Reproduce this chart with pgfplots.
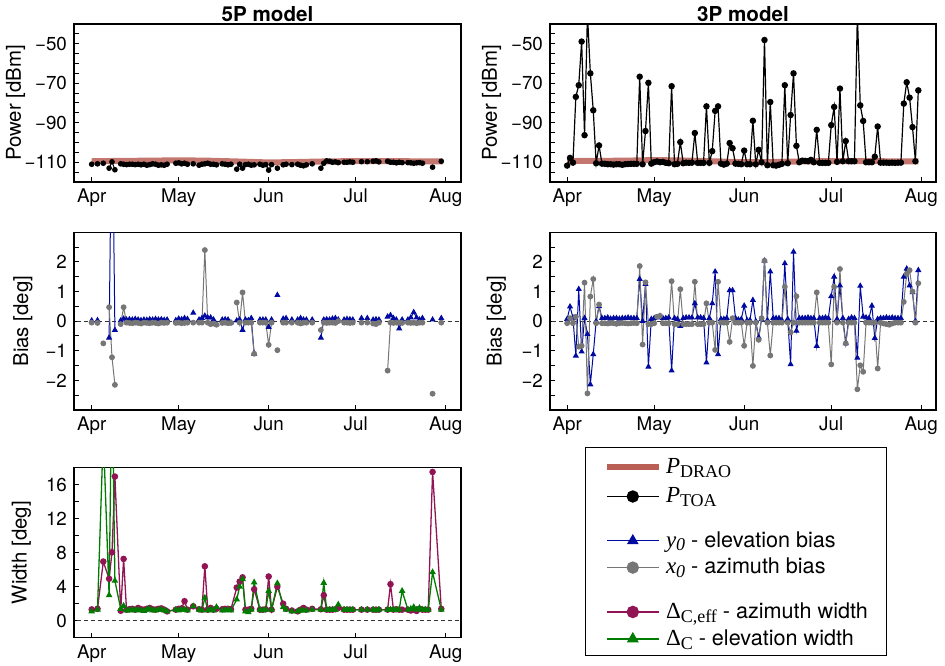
\documentclass[border=0pt]{standalone}
\usepackage{pgfplots}
\pgfplotsset{compat=1.18}
\usepackage{fontspec}
\setmainfont{TeX Gyre Heros}
\newfontfamily\tms{Liberation Serif}
\definecolor{drao}{RGB}{185,95,85}
\definecolor{ybl}{RGB}{0,10,160}
\definecolor{xgr}{RGB}{118,118,118}
\definecolor{wpu}{RGB}{145,20,85}
\definecolor{wgr}{RGB}{0,125,0}
\tikzset{lg/.style={}}
\pgfplotsset{
 lg/.style={legend image code/.code={\path (-1.85pt,6.4pt) (0pt,-6.4pt); \draw[mark repeat=2,mark phase=2,##1,mark size=2.8pt] plot coordinates {(0pt,0pt) (13pt,0pt) (26pt,0pt)};}},
 common/.style={scale only axis, anchor=south west,
  axis line style={line width=0.6pt}, tick style={black, line width=0.5pt},
  tick align=inside, major tick length=2.5pt, xtick pos=left, ytick pos=left,
  xtick={0,30,61,91,122}, xticklabels={Apr,May,Jun,Jul,Aug},
  tick label style={font=\fontsize{9.4}{11}\selectfont},
  label style={font=\fontsize{10.2}{12}\selectfont},
  title style={font=\bfseries\fontsize{10.3}{12}\selectfont, at={(axis description cs:0.5,1)}, anchor=base, yshift=-4.7pt},
  unbounded coords=jump},
 lpanel/.style={xmin=-6.1, xmax=127.3, width=193.5pt},
 rpanel/.style={xmin=-5.9, xmax=127.1, width=193pt},
 pow/.style={height=79pt, ymin=-120, ymax=-40, ytick={-115,-110,...,-45},
  yticklabels={,−110,,,,−90,,,,−70,,,,−50,}, ylabel={Power [dBm]}},
 bias/.style={height=88.85pt, ymin=-3, ymax=3,
  ytick={-2.5,-2,-1.5,-1,-0.5,0,0.5,1,1.5,2,2.5},
  yticklabels={,−2,,−1,,0,,1,,2,}, ylabel={Bias [deg]}},
}
\begin{document}
\begin{tikzpicture}
\path[use as bounding box] (0,0) rectangle (472.5pt,332.5pt);

% ---------------- 5P power
\begin{axis}[common, lpanel, pow, at={(37pt,241.5pt)}, title={5P model},
  ylabel style={at={(axis description cs:-0.151,0.5)}, anchor=center}]
\addplot[drao, line width=3pt, opacity=0.85] coordinates {(0,-109.5) (10,-109.3) (20,-109.2) (30,-109.0) (40,-109.2) (50,-109.6) (61,-110.1) (70,-109.9) (80,-109.6) (91,-109.4) (100,-109.4) (110,-109.5) (121,-109.6)};
\addplot[black, line width=0.5pt, mark=*, mark size=1.15pt] coordinates {
(0,-111) (1,nan) (2,-110.8) (3,nan) (4,-110.5) (5,nan) (6,-113) (7,-109.8) (8,-113.8) (9,nan)
(10,-110.8) (11,-111) (12,-111.2) (13,-111) (14,-111) (15,-111.2) (16,-111) (17,-111.3) (18,-111) (19,-111.5)
(20,-111.2) (21,-110.8) (22,-111) (23,-111.5) (24,-111.3) (25,-111.5) (26,-111) (27,nan)
(29,-110.5) (30,-110.3) (31,-110.8) (32,-110.5) (33,-111) (34,nan) (35,-110.8) (36,nan) (37,-111.5) (38,-111) (39,-110.8)
(40,-110.5) (41,-111) (42,-111) (43,-111.3) (44,nan) (45,-110.8) (46,-111) (47,-111.3) (48,-111) (49,nan)
(50,-113.5) (51,-111) (52,-113) (53,-111.2) (54,-111) (55,-111.5) (56,-111.3) (57,nan) (58,-111) (59,-111.5)
(60,-111.2) (61,-114) (62,-111.2) (63,nan) (64,-113) (65,nan) (66,-111.3) (67,-111) (68,nan) (69,-111.2)
(70,nan) (71,-111) (72,-111.5) (73,-111.8) (74,-111.3) (75,nan) (76,-110.8) (77,nan)
(79,-113) (80,-110.5) (81,-109.3) (82,-109.5) (83,-110) (84,-109.8) (85,-110.2) (86,nan) (87,-110) (88,-110) (89,-109.8)
(90,-110) (91,nan) (93,-109.7) (94,nan) (95,-109.7) (96,nan) (97,-109.5) (98,-109.3) (99,-109.8) (100,nan)
(102,-109.5) (103,-110) (104,-110) (105,-110.3) (106,-110) (107,-110.2) (108,nan) (109,-110.2)
(110,-110.3) (111,-110.5) (112,-110.3) (113,-110.2) (114,-110.5) (115,nan) (117.5,-112.5) (118.5,nan) (120.5,-109.5)};
\end{axis}

% ---------------- 3P power
\begin{axis}[common, rpanel, pow, at={(275pt,241.5pt)}, title={3P model},
  ylabel style={at={(axis description cs:-0.1516,0.5)}, anchor=center}]
\addplot[drao, line width=3pt, opacity=0.85] coordinates {(0,-109.4) (10,-109.3) (20,-109.2) (30,-108.9) (40,-109.1) (50,-109.5) (61,-110.0) (70,-109.9) (80,-109.6) (91,-109.4) (100,-109.4) (110,-109.5) (121,-109.6)};
\addplot[black, line width=0.6pt, mark=*, mark size=1.3pt] coordinates {
(0,-111.7) (1,-107.8) (2,-110.2) (3,-76.9) (4,-71) (5,-48.9) (6,-96.3) (7,-35) (8,-65) (9,-83.7)
(10,-110.5) (11,-101.5) (12,-110.7) (13,-110.8) (14,-111) (15,-111) (16,-111.2) (17,-111) (18,-111) (19,-111.3)
(20,-111) (21,-110.9) (22,-110.8) (23,-110.8) (24,-110.8) (25,-66.7) (26,-111) (27,-94.2) (28,-69.8) (29,-110.7)
(30,-110) (31,-109.6) (32,-110) (33,-109.8) (34,-110.3) (35,-110.5) (36,-71.5) (37,-111) (38,-110.8) (39,-99.8)
(40,-110.5) (41,-110.2) (42,-110.3) (43,-110.2) (44,-95.2) (45,-110.3) (46,-110.3) (47,-110.3) (48,-81.7) (49,-110.3)
(50,-104.4) (51,-84) (52,-81.7) (53,-110.7) (54,-111.2) (55,-110.7) (56,-100.3) (57,-102.9) (58,-110.7) (59,-110.8)
(60,-111) (61,-104.1) (62,-111) (63,-111) (64,-89) (65,-111) (66,-103.7) (67,-110) (68,-48.1) (69,-111.5)
(70,-79.5) (71,-111.5) (72,-111.7) (73,-111.3) (74,-110.8) (75,-71) (76,-110.5) (77,-86.1) (78,-65) (79,-101.7)
(80,-110) (81,-109.2) (82,-109.3) (83,-109.5) (84,-108.8) (85,-110) (86,-93.6) (87,-110.3) (88,-110.3) (89,-110.3)
(90,-110.3) (91,-91.2) (92,-82) (93,-109.8) (94,-72.7) (95,-109.5) (96,-99.3) (97,-109.5) (98,-109.5) (99,-109.5)
(100,-35) (101,-81.2) (102,-89.1) (103,-110) (104,-110) (105,-110) (106,-107.2) (107,-91.9) (108,-110.2) (109,-110.2)
(110,-110.2) (111,-110.3) (112,-110.2) (113,-110.3) (114,-110.2) (115,-110.2) (116,-80.3) (117,-69.5) (118,-77.3) (119,-92.2)
(120,-109.5) (121,-73.6)};
\end{axis}

% ---------------- 5P bias
\begin{axis}[common, lpanel, bias, at={(37pt,127.5pt)},
  ylabel style={at={(axis description cs:-0.132,0.5)}, anchor=center}]
\addplot[forget plot, black!80, line width=0.5pt, dash pattern=on 2pt off 1.5pt] coordinates {(-10,0) (135,0)};
\addplot[ybl, line width=0.5pt, mark=triangle*, mark size=1.3pt] coordinates {
(0,0.02) (1,nan) (2,0.03) (3,nan) (6,-0.56) (7,8) (8,-0.3) (9,nan)
(10,0.02) (11,0.08) (12,0.05) (13,0.06) (14,0.05) (15,0.07) (16,0.05) (17,0.03) (18,0.05) (19,0.04)
(20,0.06) (21,0.05) (22,0.07) (23,0.05) (24,0.06) (25,0.04) (26,0.05) (27,nan)
(29,0.03) (30,0.08) (31,0.06) (32,0.1) (33,0.07) (34,nan) (35,0.28) (36,nan) (37,0.05) (38,0.1) (39,0.18)
(40,0.12) (41,0.12) (42,0.05) (43,-0.1) (44,nan) (45,0.05) (46,0.06) (47,0.05) (48,-0.05) (49,nan)
(50,0.02) (51,0.05) (52,-0.3) (53,0.05) (54,0.03) (55,0.1) (56,-1.1) (57,nan) (58,0.05) (59,0.05)
(60,0.05) (61,-0.2) (62,0.05) (63,nan) (64,0.88) (65,nan) (66,0.08) (67,0.1) (68,nan) (69,0.05)
(70,nan) (71,0.05) (72,0.1) (73,0.05) (74,0.05) (75,nan) (76,0.05) (77,nan)
(79,-0.56) (80,0.05) (81,0.06) (82,0.05) (83,0.08) (84,0.1) (85,0.05) (86,nan) (87,0.05) (88,0.07) (89,0.06)
(90,0.05) (91,nan) (93,0.1) (94,nan) (95,0.1) (96,nan) (97,0.05) (98,0.06) (99,0.05) (100,nan)
(102,0.15) (103,0.2) (104,0.1) (105,0.05) (106,-0.25) (107,0.05) (108,nan) (109,0.05)
(110,0.12) (111,0.3) (112,0.12) (113,0.05) (114,0.1) (115,nan) (117.5,0.05) (118.5,nan) (120.5,0.1)};
\addplot[xgr, line width=0.5pt, mark=*, mark size=1.2pt] coordinates {
(0,-0.05) (1,nan) (2,-0.06) (3,nan) (4,-0.75) (5,nan) (6,0.47) (7,-1.22) (8,-2.15) (9,nan)
(10,-0.1) (11,0.47) (12,-0.05) (13,-0.06) (14,-0.07) (15,-0.05) (16,-0.06) (17,-0.08) (18,-0.05) (19,-0.06)
(20,-0.07) (21,-0.05) (22,-0.06) (23,-0.08) (24,-0.05) (25,-0.06) (26,-0.05) (27,nan)
(29,-0.06) (30,-0.05) (31,-0.07) (32,-0.06) (33,-0.05) (34,nan) (35,-0.05) (36,nan) (37,-0.05) (38,-0.05) (39,2.4)
(40,-0.05) (41,-0.1) (42,-0.08) (43,-0.12) (44,nan) (45,-0.06) (46,-0.05) (47,-0.07) (48,-0.06) (49,nan)
(50,0.63) (51,-0.05) (52,0.97) (53,-0.05) (54,-0.05) (55,-0.05) (56,-1.1) (57,nan) (58,-0.05) (59,-0.05)
(60,-0.05) (61,-0.8) (62,-0.05) (63,nan) (64,-0.98) (65,nan) (66,-0.05) (67,-0.05) (68,nan) (69,-0.05)
(70,nan) (71,-0.05) (72,-0.08) (73,-0.05) (74,-0.05) (75,nan) (76,-0.05) (77,nan)
(79,-0.3) (80,-0.05) (81,-0.06) (82,-0.05) (83,-0.05) (84,-0.06) (85,0.0) (86,nan) (87,-0.05) (88,-0.05) (89,-0.06)
(90,-0.05) (91,nan) (93,-0.05) (94,nan) (95,-0.05) (96,nan) (97,-0.08) (98,-0.1) (99,-0.05) (100,nan)
(102,-1.67) (103,-0.05) (104,-0.06) (105,-0.05) (106,-0.05) (107,-0.06) (108,nan) (109,-0.05)
(110,-0.06) (111,-0.05) (112,-0.07) (113,-0.05) (114,-0.05) (115,nan) (117.5,-2.45) (118.5,nan) (120.5,-0.05)};
\end{axis}

% ---------------- 3P bias
\begin{axis}[common, rpanel, bias, at={(275pt,127.5pt)},
  ylabel style={at={(axis description cs:-0.1386,0.5)}, anchor=center}]
\addplot[forget plot, black!80, line width=0.5pt, dash pattern=on 2pt off 1.5pt] coordinates {(-10,0) (135,0)};
\addplot[ybl, line width=0.5pt, mark=triangle*, mark size=1.3pt] coordinates {
(0,0.07) (1,0.49) (2,0.12) (3,-1.17) (4,1.08) (5,-1.03) (6,0.1) (7,-0.44) (8,-2.14) (9,-1.12)
(10,0) (11,0.5) (12,0.1) (13,0.1) (14,0.12) (15,0.08) (16,0.1) (17,0.1) (18,0.08) (19,0.1)
(20,0.1) (21,0.12) (22,0.1) (23,0.1) (24,0.1) (25,1.42) (26,0.0) (27,1.25) (28,-1.54) (29,0.07)
(30,0.1) (31,0.12) (32,0.17) (33,0.1) (34,0.1) (35,0.12) (36,-1.67) (37,0.1) (38,0.07) (39,-0.17)
(40,0.1) (41,0.12) (42,0.12) (43,0.12) (44,0.6) (45,0.12) (46,0.12) (47,0.1) (48,-1.4) (49,0.1)
(50,0.6) (51,1.67) (52,-1.12) (53,0.07) (54,0.07) (55,0.1) (56,1.04) (57,1.04) (58,0.1) (59,0.05)
(60,0.07) (61,0.52) (62,0.03) (63,0.03) (64,0.71) (65,0) (66,-0.55) (67,0.07) (68,2.04) (69,0.03)
(70,1.67) (71,0.1) (72,0.1) (73,0.1) (74,0.03) (75,1.95) (76,0.07) (77,-1.46) (78,2.34) (79,-0.33)
(80,0.1) (81,0.1) (82,0.1) (83,0.12) (84,0.1) (85,0.1) (86,-0.84) (87,0.1) (88,0.1) (89,0.12)
(90,0.1) (91,0.84) (92,1.5) (93,0.07) (94,1.2) (95,0.1) (96,-0.75) (97,0.07) (98,0.12) (99,0.1)
(100,-1.24) (101,1.19) (102,0.15) (103,0.12) (104,0.1) (105,0.52) (106,-0.57) (107,0.07) (108,0.1) (109,0.1)
(110,0.12) (111,0.1) (112,0.12) (113,0.1) (114,0.1) (115,0.1) (116,1.5) (117,1.77) (118,1.2) (119,0.97)
(120,0.0) (121,1.72)};
\addplot[xgr, line width=0.5pt, mark=*, mark size=1.2pt] coordinates {
(0,-0.07) (1,0.1) (2,-0.07) (3,0.15) (4,-0.86) (5,-0.83) (6,1.3) (7,-2.44) (8,0.83) (9,1.42)
(10,-0.07) (11,0.56) (12,-0.07) (13,-0.07) (14,-0.08) (15,-0.06) (16,-0.07) (17,-0.09) (18,-0.07) (19,-0.06)
(20,-0.07) (21,-0.08) (22,-0.07) (23,-0.06) (24,-0.07) (25,1.86) (26,-0.79) (27,1.31) (28,-0.1) (29,-0.1)
(30,-0.07) (31,0.15) (32,0.18) (33,-0.07) (34,-0.07) (35,-0.07) (36,1.35) (37,-0.1) (38,-0.1) (39,1.08)
(40,-0.1) (41,-0.1) (42,-0.1) (43,-0.1) (44,1.33) (45,-0.1) (46,-0.1) (47,-0.1) (48,0.6) (49,-0.05)
(50,-0.05) (51,-0.97) (52,1.33) (53,-0.05) (54,-0.05) (55,-0.05) (56,-0.7) (57,0.1) (58,-0.05) (59,-0.05)
(60,-0.05) (61,-0.83) (62,-0.05) (63,-0.05) (64,-1.51) (65,-0.05) (66,-0.63) (67,0.1) (68,2.04) (69,-0.05)
(70,-1.16) (71,-0.05) (72,-0.05) (73,-0.05) (74,-0.05) (75,1.16) (76,-0.05) (77,-0.38) (78,-0.05) (79,0.84)
(80,-0.05) (81,-0.05) (82,-0.05) (83,-0.05) (84,-0.05) (85,-0.05) (86,0.97) (87,-0.05) (88,-0.05) (89,-0.05)
(90,-0.05) (91,-1.46) (92,1.16) (93,-0.05) (94,1.76) (95,-0.05) (96,-0.75) (97,-0.05) (98,-0.05) (99,-0.05)
(100,-2.3) (101,-1.49) (102,-1.71) (103,-0.05) (104,-0.05) (105,-0.05) (106,-0.05) (107,-1.6) (108,-0.05) (109,-0.08)
(110,-0.1) (111,-0.12) (112,-0.08) (113,-0.05) (114,-0.05) (115,-0.05) (116,0.65) (117,1.6) (118,1.72) (119,1.0)
(120,-0.05) (121,1.28)};
\end{axis}

% ---------------- 5P width + legend
\begin{axis}[common, lpanel, at={(37pt,13.65pt)}, height=85pt, ymin=-2, ymax=18,
  ytick={0,2,...,16}, yticklabels={0,,4,,8,,12,,16}, ylabel={Width [deg]},
  ylabel style={at={(axis description cs:-0.1357,0.5)}, anchor=center},
  legend cell align=left,
  legend style={at={(axis description cs:1.3204,1.1218)}, anchor=north west,
    draw=black, line width=0.6pt, inner xsep=7.15pt, inner ysep=1.75pt,
    font=\fontsize{10.8}{12}\selectfont, row sep=0pt,
    /tikz/every odd column/.append style={column sep=0pt}}]
\addlegendimage{lg, drao, line width=3.2pt}
\addlegendentry{{\tms\fontsize{11.5}{13}\selectfont\textit{P}{\fontsize{9}{10}\selectfont\raisebox{-2.2pt}{DRAO}}}}
\addlegendimage{lg, black, line width=0.6pt, mark=*}
\addlegendentry{{\tms\fontsize{11.5}{13}\selectfont\textit{P}{\fontsize{9}{10}\selectfont\raisebox{-2.2pt}{TOA}}}}
\addlegendimage{empty legend}
\addlegendentry{\rule{0pt}{3.25pt}}
\addlegendimage{lg, ybl, line width=0.6pt, mark=triangle*}
\addlegendentry{{\tms\fontsize{11.5}{13}\selectfont\textit{y}{\fontsize{9}{10}\selectfont\raisebox{-1.8pt}{\textit{0}}}} - elevation bias}
\addlegendimage{lg, xgr, line width=0.6pt, mark=*}
\addlegendentry{{\tms\fontsize{11.5}{13}\selectfont\textit{x}{\fontsize{9}{10}\selectfont\raisebox{-1.8pt}{\textit{0}}}} - azimuth bias}
\addlegendimage{empty legend}
\addlegendentry{\rule{0pt}{3.25pt}}
\addplot[forget plot, black!80, line width=0.5pt, dash pattern=on 2pt off 1.5pt] coordinates {(-10,0) (135,0)};
\addplot[wpu, line width=0.65pt, mark=*, mark size=1.3pt, lg] coordinates {
(0,1.33) (2,1.4) (4,6.96) (6,4.93) (7,8.05) (8,16.96) (10,1.17) (11,7.27) (12,1.3) (13,1.35) (14,1.4)
(15,1.3) (16,1.5) (17,1.35) (18,1.3) (19,1.4) (20,1.5) (21,1.35) (22,1.3) (23,1.4) (24,1.45) (25,1.3) (26,1.1)
(29,1.3) (30,1.4) (31,1.45) (32,2.3) (33,1.3) (35,1.7) (37,1.35) (38,1.3) (39,6.4) (40,1.3) (41,1.5) (42,1.3)
(43,1.4) (45,1.35) (46,1.4) (47,1.4) (48,1.35) (50,3.9) (51,4.6) (52,5.1) (53,1.3) (54,1.3) (55,1.4) (56,3.7)
(58,1.3) (59,1.3) (60,1.35) (61,5.2) (62,1.3) (64,4.0) (66,2.0) (67,1.4) (69,1.2) (71,1.1) (72,1.3) (73,1.5)
(74,1.3) (76,1.4) (79,1.35) (80,3.0) (81,1.3) (82,1.3) (83,1.3) (84,1.35) (85,1.5) (87,1.3) (88,1.3) (89,1.3)
(90,1.3) (93,1.3) (95,1.3) (97,1.3) (98,1.3) (99,1.3) (102,1.3) (103,4.3) (104,1.3) (105,1.35) (106,1.3)
(107,1.3) (109,1.3) (110,1.2) (111,1.3) (112,1.15) (113,1.4) (114,1.3) (115,1.3) (116,1.3) (117.5,17.5) (120.5,1.4)};
\addlegendentry{{\tms\fontsize{11.5}{13}\selectfont Δ{\fontsize{9}{10}\selectfont\raisebox{-2.2pt}{C,eff}}} - azimuth width}
\addplot[wgr, line width=0.65pt, mark=triangle*, mark size=1.3pt, lg] coordinates {
(0,1.1) (2,1.3) (4,22) (6,3) (7,30) (8,4.7) (10,1.4) (11,1.75) (12,1.2) (13,1.2) (14,1.3)
(15,1.2) (16,1.3) (17,1.2) (18,1.15) (19,1.3) (20,1.4) (21,1.2) (22,1.2) (23,1.3) (24,1.3) (25,1.2) (26,1.1)
(29,1.3) (30,1.2) (31,1.3) (32,1.3) (33,1.2) (35,1.7) (37,1.3) (38,1.2) (39,2.7) (40,1.2) (41,1.3) (42,1.2)
(43,1.6) (45,1.2) (46,1.2) (47,1.3) (48,1.2) (50,2.5) (51,4.0) (52,4.9) (53,1.1) (54,1.0) (55,1.3) (56,4.5)
(58,1.3) (59,1.2) (60,1.3) (61,3.5) (62,1.3) (64,4.4) (66,1.6) (67,1.3) (69,1.1) (71,1.1) (72,1.2) (73,1.2)
(74,1.2) (76,1.3) (79,1.3) (80,4.45) (81,1.3) (82,1.3) (83,1.3) (84,1.3) (85,1.9) (87,1.3) (88,1.3) (89,1.3)
(90,1.3) (93,1.3) (95,1.3) (97,1.3) (98,1.2) (99,1.3) (102,1.3) (103,1.3) (104,1.3) (105,1.3) (106,1.3)
(107,3.5) (109,1.3) (110,1.4) (111,1.6) (112,1.3) (113,1.5) (114,1.3) (115,1.3) (116,1.3) (117.5,5.7) (120.5,1.3)};
\addlegendentry{{\tms\fontsize{11.5}{13}\selectfont Δ{\fontsize{9}{10}\selectfont\raisebox{-2.2pt}{C}}} - elevation width}
\end{axis}
\end{tikzpicture}
\end{document}
